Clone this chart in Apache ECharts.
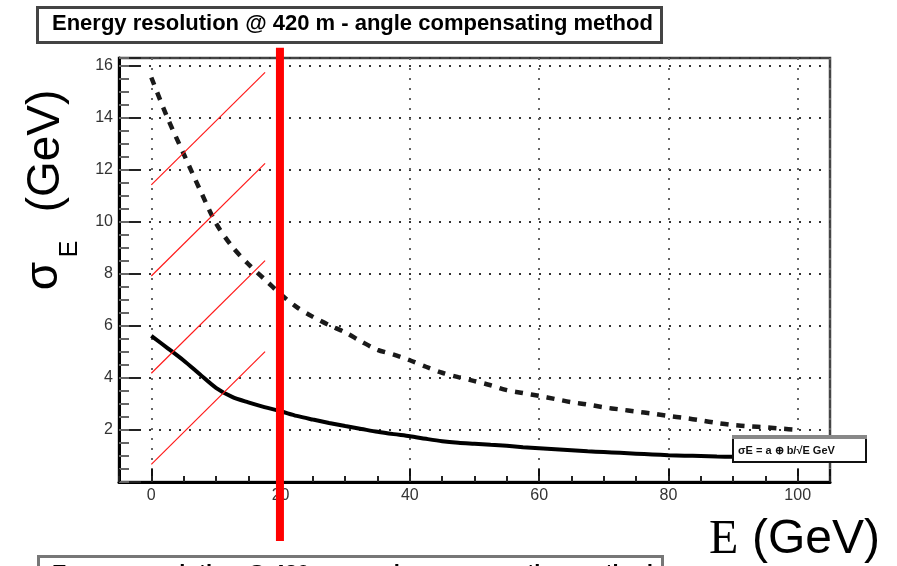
<!DOCTYPE html>
<html>
<head>
<meta charset="utf-8">
<script src="https://cdn.jsdelivr.net/npm/echarts@6/dist/echarts.min.js"></script>
<style>
  html, body { margin: 0; padding: 0; background: #fff; }
  #chart { width: 897px; height: 566px; }
</style>
</head>
<body>
<div id="chart"></div>
<script>
// Beam energy (GeV) sampled along both resolution curves
const energy = [0, 2.5, 5, 7.5, 10, 12.5, 15, 17.5, 20, 22.5, 25, 27.5, 30, 32.5, 35, 37.5, 40,
  42.5, 45, 47.5, 50, 52.5, 55, 57.5, 60, 62.5, 65, 67.5, 70, 72.5, 75, 77.5, 80, 82.5, 85,
  87.5, 90, 92.5, 95, 97.5, 100];

// Energy resolution, dashed curve (GeV)
const sigmaDashed = [15.55, 14.0, 12.62, 11.25, 9.95, 9.05, 8.38, 7.8, 7.22, 6.72, 6.35, 6.03,
  5.75, 5.4, 5.08, 4.9, 4.68, 4.43, 4.2, 4.03, 3.88, 3.72, 3.53, 3.42, 3.31, 3.19, 3.07, 2.98,
  2.87, 2.79, 2.71, 2.63, 2.54, 2.46, 2.37, 2.27, 2.19, 2.14, 2.1, 2.05, 2.01];

// Energy resolution, solid curve (GeV)
const sigmaSolid = [5.62, 5.15, 4.67, 4.14, 3.62, 3.27, 3.06, 2.88, 2.72, 2.54, 2.4, 2.27, 2.15,
  2.04, 1.93, 1.84, 1.76, 1.66, 1.57, 1.51, 1.47, 1.43, 1.39, 1.34, 1.3, 1.26, 1.22, 1.18, 1.15,
  1.12, 1.09, 1.06, 1.03, 1.01, 1.0, 0.98, 0.97, 0.96, 0.95, 0.94, 0.93];

// Thin red hatch strokes: start/end energy and sigma at each end
const hatchE = [0, 17.6];
const hatchStart = [11.42, 7.92, 4.18, 0.68];
const hatchEnd = [15.75, 12.25, 8.51, 5.01];

// Thick red marker at a fixed energy, spanning beyond the frame
const markerE = 19.9;
const markerSigma = [-2.27, 16.69];

// Axis settings
const xMin = -5, xMax = 105;
const yMin = 0, yMax = 16.3;
const yStep = 2;
const titleText = 'Energy resolution @ 420 m - angle compensating method';
const statText = 'σE = a ⊕ b/√E GeV';

const pairs = (xs, ys) => xs.map((x, i) => [x, ys[i]]);

const series = [
  {
    type: 'line', name: 'dashed', data: pairs(energy, sigmaDashed),
    xAxisIndex: 0, yAxisIndex: 0, showSymbol: false, smooth: 0.3, z: 3,
    lineStyle: { color: '#1a1a1a', width: 4.5, type: [8, 8], cap: 'butt' }
  },
  {
    type: 'line', name: 'solid', data: pairs(energy, sigmaSolid),
    xAxisIndex: 0, yAxisIndex: 0, showSymbol: false, smooth: 0.3, z: 3,
    lineStyle: { color: '#000', width: 4 }
  }
];

hatchStart.forEach((s, i) => {
  series.push({
    type: 'line', data: [[hatchE[0], s], [hatchE[1], hatchEnd[i]]],
    xAxisIndex: 0, yAxisIndex: 0, showSymbol: false, z: 4, silent: true,
    lineStyle: { color: '#ff1a1a', width: 1.2 }
  });
});

series.push({
  type: 'line', data: [[markerE, markerSigma[0]], [markerE, markerSigma[1]]],
  xAxisIndex: 0, yAxisIndex: 0, showSymbol: false, clip: false, z: 20, silent: true,
  lineStyle: { color: '#ff0000', width: 8, cap: 'butt' }
});

const labelFont = { color: '#333', fontSize: 16, fontFamily: 'Liberation Sans, Arial, sans-serif' };
const titleFont = 'bold 22px "Liberation Sans", Arial, sans-serif';

const option = {
  animation: false,
  backgroundColor: '#fff',
  grid: {
    left: 119, top: 58, right: 67, bottom: 84,
    show: true, borderColor: '#444', borderWidth: 2.5, backgroundColor: 'transparent'
  },
  xAxis: [
    {
      type: 'value', position: 'bottom', min: xMin, max: xMax, splitNumber: 5,
      axisLine: { show: true, onZero: false, lineStyle: { color: '#000', width: 3 } },
      axisTick: { show: true, inside: true, length: 13, lineStyle: { color: '#111', width: 2 } },
      axisLabel: Object.assign({ margin: 6, formatter: v => (v % 20 === 0 ? String(v) : '') }, labelFont),
      splitLine: { show: true, lineStyle: { color: '#666', width: 2, type: [2, 8] } }
    },
    {
      type: 'value', position: 'bottom', min: xMin, max: xMax, interval: 5,
      axisLine: { show: false, onZero: false },
      axisTick: { show: true, inside: true, length: 6, lineStyle: { color: '#222', width: 2 } },
      axisLabel: { show: false },
      splitLine: { show: false }
    }
  ],
  yAxis: [
    {
      type: 'value', position: 'left', min: yMin, max: yMax, interval: yStep,
      axisLine: { show: true, onZero: false, lineStyle: { color: '#000', width: 3 } },
      axisTick: { show: true, inside: true, length: 22, lineStyle: { color: '#222', width: 2 } },
      axisLabel: Object.assign({ margin: 6, formatter: v => (v > 0 && v % 2 === 0 ? String(v) : '') }, labelFont),
      splitLine: { show: true, lineStyle: { color: '#333', width: 2, type: [2, 8] } }
    },
    {
      type: 'value', position: 'left', min: yMin, max: yMax, interval: 0.5,
      axisLine: { show: false, onZero: false },
      axisTick: { show: true, inside: true, length: 10, lineStyle: { color: '#666', width: 2 } },
      axisLabel: { show: false },
      splitLine: { show: false }
    }
  ],
  series: series,
  graphic: [
    // title box
    {
      type: 'rect', z: 50, shape: { x: 37.5, y: 7.5, width: 624, height: 35 },
      style: { fill: '#fff', stroke: '#444', lineWidth: 3 }
    },
    {
      type: 'text', z: 51, x: 52, y: 24,
      style: {
        text: titleText, fill: '#000', font: titleFont,
        textAlign: 'left', textVerticalAlign: 'middle'
      }
    },
    // second title box, cut by the lower edge
    {
      type: 'rect', z: 50, shape: { x: 38.5, y: 556.5, width: 624, height: 35 },
      style: { fill: '#fff', stroke: '#777', lineWidth: 3 }
    },
    {
      type: 'text', z: 51, x: 52, y: 573.5,
      style: {
        text: titleText, fill: '#000', font: titleFont,
        textAlign: 'left', textVerticalAlign: 'middle'
      }
    },
    // stat box
    {
      type: 'rect', z: 50, shape: { x: 733, y: 437, width: 133, height: 25 },
      style: { fill: '#fff', stroke: '#111', lineWidth: 2 }
    },
    {
      type: 'line', z: 51, shape: { x1: 732, y1: 437, x2: 867, y2: 437 },
      style: { stroke: '#888', lineWidth: 4 }
    },
    {
      type: 'text', z: 52, x: 738, y: 451,
      style: {
        text: statText, fill: '#111', font: 'bold 11px "Liberation Sans", Arial, sans-serif',
        textAlign: 'left', textVerticalAlign: 'middle'
      }
    },
    // y-axis title, rotated
    {
      type: 'text', z: 60, x: 44, y: 276, rotation: Math.PI / 2,
      style: {
        text: 'σ', fill: '#000', font: '46px "Liberation Sans", Arial, sans-serif',
        textAlign: 'center', textVerticalAlign: 'middle'
      }
    },
    {
      type: 'text', z: 60, x: 70, y: 249, rotation: Math.PI / 2,
      style: {
        text: 'E', fill: '#000', font: '25px "Liberation Sans", Arial, sans-serif',
        textAlign: 'center', textVerticalAlign: 'middle'
      }
    },
    {
      type: 'text', z: 60, x: 46, y: 151, rotation: Math.PI / 2,
      style: {
        text: '(GeV)', fill: '#000', font: '46px "Liberation Sans", Arial, sans-serif',
        textAlign: 'center', textVerticalAlign: 'middle'
      }
    },
    // x-axis title
    {
      type: 'text', z: 60, x: 709, y: 540,
      style: {
        text: 'E', fill: '#000', font: '48px "Liberation Serif", "DejaVu Serif", serif',
        textAlign: 'left', textVerticalAlign: 'middle'
      }
    },
    {
      type: 'text', z: 60, x: 752, y: 540,
      style: {
        text: '(GeV)', fill: '#000', font: '48px "Liberation Sans", Arial, sans-serif',
        textAlign: 'left', textVerticalAlign: 'middle'
      }
    }
  ]
};

const chart = echarts.init(document.getElementById('chart'), null, { renderer: 'canvas' });
chart.setOption(option);
</script>
</body>
</html>
